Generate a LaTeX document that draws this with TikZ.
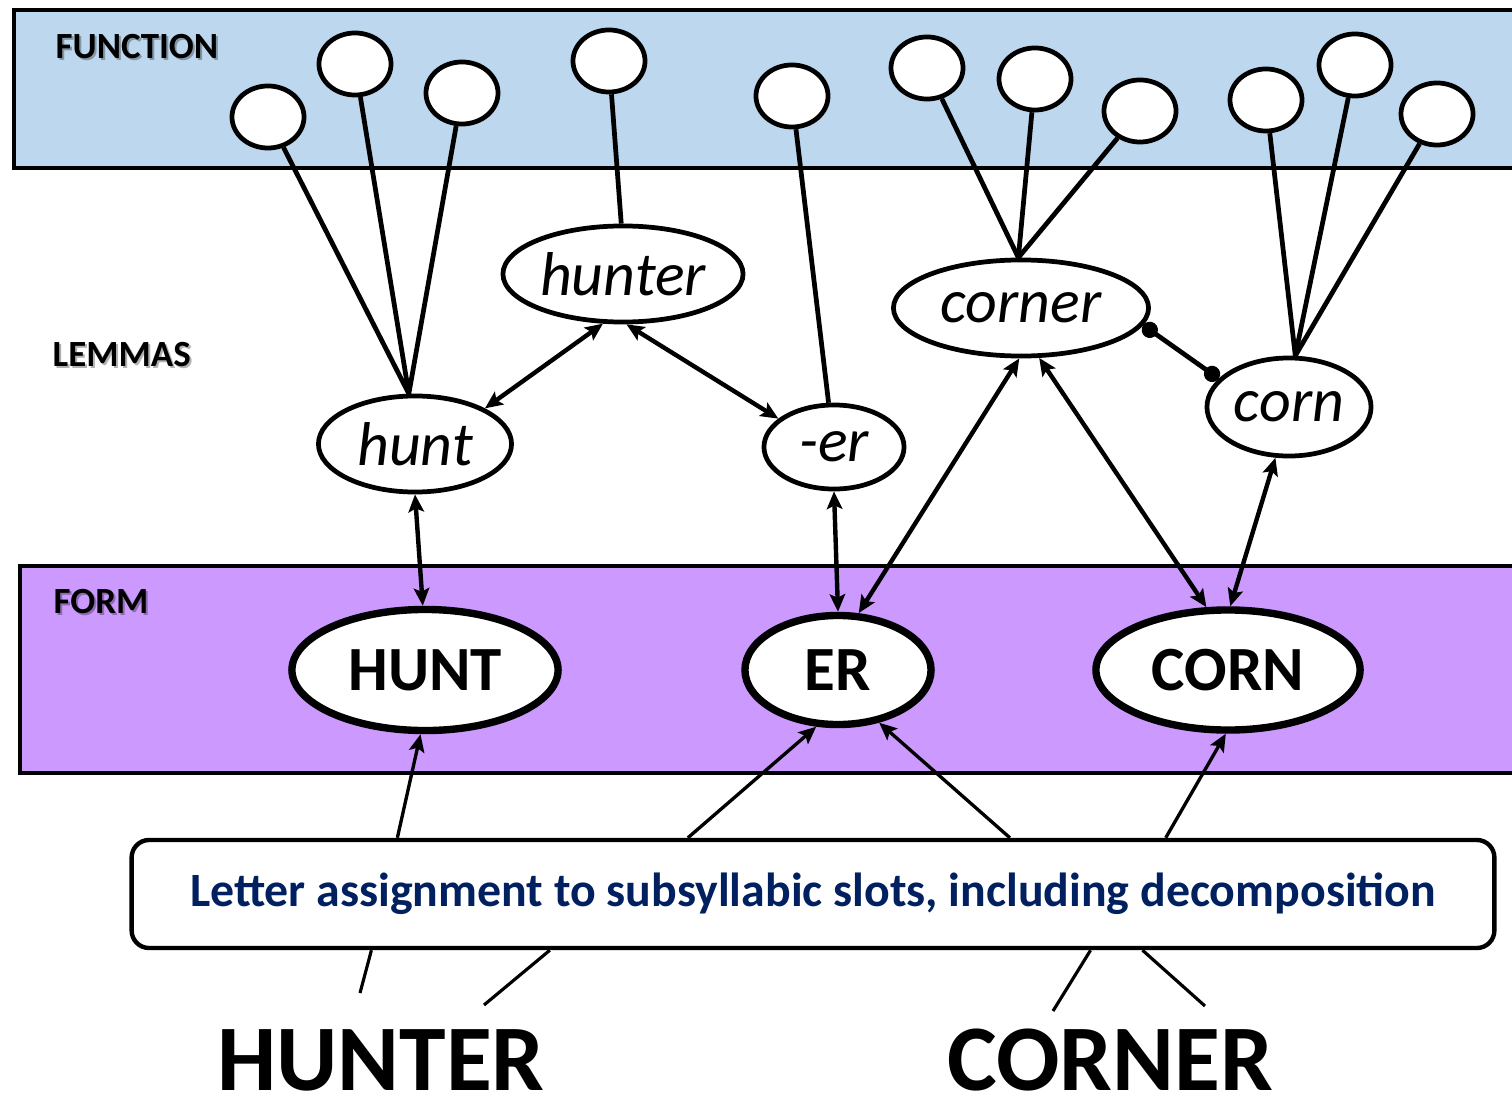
\documentclass[tikz,border=0pt]{standalone}
\usepackage{fontspec}
\setmainfont{Carlito}
\usetikzlibrary{shapes.geometric,arrows.meta,calc}
\definecolor{funcblue}{HTML}{BDD7EE}
\definecolor{formviolet}{HTML}{CC99FF}
\definecolor{navy}{HTML}{002060}

\begin{document}
\begin{tikzpicture}[x=0.01cm,y=-0.01cm,
  sense/.style={ellipse,draw,fill=white,line width=1.35pt,minimum width=0.72cm,minimum height=0.62cm,inner sep=0pt},
  lemma/.style={ellipse,draw,fill=white,line width=1.35pt,inner sep=0pt,font=\fontsize{17.6}{20}\selectfont\itshape},
  wordform/.style={ellipse,draw,fill=white,line width=2.1pt,inner sep=0pt,font=\fontsize{17.9}{20}\selectfont\bfseries},
  bandlabel/.style={anchor=base west,inner sep=0pt,font=\fontsize{10.5}{12}\selectfont\bfseries},
  labelshadow/.style={bandlabel,text=black,opacity=0.3},
  bigword/.style={anchor=base,inner sep=0pt,font=\fontsize{26.7}{30}\selectfont\bfseries},
  link/.style={line width=1.35pt},
  tip/.tip={Stealth[length=5pt,width=4.4pt,inset=1pt]},
  biarrow/.style={line width=1.25pt,tip-tip},
  feed/.style={line width=0.95pt,-tip},
  thin/.style={line width=0.9pt},
  dotlink/.style={line width=1.35pt,{Circle[length=4.6pt]}-{Circle[length=4.6pt]}}]

\useasboundingbox (0,0) rectangle (1512,1097);

% bands
\fill[funcblue] (14,10) rectangle (1512,168);
\draw[line width=1pt] (1512,10) -- (14,10) -- (14,168) -- (1512,168);
\fill[formviolet] (20,566) rectangle (1512,773);
\draw[line width=1pt] (1512,566) -- (20,566) -- (20,773) -- (1512,773);

% band labels with soft shadow
\node[labelshadow] (fnS) at (57,61) {FUNCTION};
\node[bandlabel] (fn) at (55,59) {FUNCTION};
\node[labelshadow] (lmS) at (54,368) {LEMMAS};
\node[bandlabel] (lm) at (52,366) {LEMMAS};
\node[labelshadow] (foS) at (55,615) {FORM};
\node[bandlabel] (fo) at (53,613) {FORM};

% function units
\node[sense] (f1) at (268,117) {};
\node[sense] (f2) at (355,64) {};
\node[sense] (f3) at (462,93) {};
\node[sense] (f4) at (609,61) {};
\node[sense] (f5) at (792,96) {};
\node[sense] (f6) at (927,68) {};
\node[sense] (f7) at (1035,79) {};
\node[sense] (f8) at (1140,111) {};
\node[sense] (f9) at (1266,100) {};
\node[sense] (f10) at (1355,65) {};
\node[sense] (f11) at (1437,114) {};

% lemmas
\node[lemma,minimum width=2.40cm,minimum height=0.96cm] (hunter) at (623,274) {hunter};
\node[lemma,minimum width=1.93cm,minimum height=0.96cm] (hunt) at (415,444) {hunt};
\node[lemma,minimum width=1.40cm,minimum height=0.84cm] (er) at (834,447) {-er};
\node[lemma,minimum width=2.55cm,minimum height=0.96cm] (corner) at (1021,308) {corner};
\node[lemma,minimum width=1.64cm,minimum height=0.98cm] (corn) at (1289,407) {corn};

% orthographic forms
\node[wordform,minimum width=2.66cm,minimum height=1.21cm] (HUNT) at (425,670) {HUNT};
\node[wordform,minimum width=1.86cm,minimum height=1.09cm] (ER) at (838,670) {ER};
\node[wordform,minimum width=2.64cm,minimum height=1.20cm] (CORN) at (1228,670) {CORN};

% letter assignment stage
\node[draw,fill=white,line width=1.25pt,rounded corners=5pt,minimum width=13.62cm,minimum height=1.08cm,inner sep=0pt,
      text=navy,font=\fontsize{13.6}{15}\selectfont\bfseries] (letters) at (813,894)
      {\raisebox{-1.5pt}{Letter assignment to subsyllabic slots, including decomposition}};

% input words
\node[bigword] (HUNTER) at (381,1090) {HUNTER};
\node[bigword] (CORNER) at (1110,1090) {CORNER};
\coordinate (hunterA) at (360,993);
\coordinate (hunterB) at (484,1005);
\coordinate (cornerA) at (1053,1011);
\coordinate (cornerB) at (1205,1006);

% lemma -> function links
\draw[link] (hunt.97) -- (f1);
\draw[link] (hunt.97) -- (f2);
\draw[link] (hunt.97) -- (f3);
\draw[link] (hunter.92) -- (f4);
\draw[link] (er.97) -- (f5);
\draw[link] (corner.93) -- (f6);
\draw[link] (corner.93) -- (f7);
\draw[link] (corner.93) -- (f8);
\draw[link] (corn.83) -- (f9);
\draw[link] (corn.83) -- (f10);
\draw[link] (corn.83) -- (f11);

% lemma <-> lemma and lemma <-> form
\draw[biarrow] (hunt.27) -- (hunter.248);
\draw[biarrow] (hunter.274) -- (er.153);
\draw[biarrow] (hunt.270) -- (HUNT.92);
\draw[biarrow] (er.270) -- (ER.90);
\draw[biarrow] (corner.268) -- (ER.70);
\draw[biarrow] (corner.290) -- (CORN.109);
\draw[biarrow] (corn.255) -- (CORN.88);
\draw[dotlink] (corner.352) -- (corn.158);

% letter assignment -> forms
\draw[feed] ($(letters.north west)!0.196!(letters.north east)$) -- (HUNT.266);
\draw[feed] ($(letters.north west)!0.4085!(letters.north east)$) -- (ER.249);
\draw[feed] ($(letters.north west)!0.644!(letters.north east)$) -- (ER.308);
\draw[feed] ($(letters.north west)!0.758!(letters.north east)$) -- (CORN.268);

% input words -> letter assignment
\draw[thin] (hunterA) -- ($(letters.south west)!0.177!(letters.south east)$);
\draw[thin] (hunterB) -- ($(letters.south west)!0.3075!(letters.south east)$);
\draw[thin] (cornerA) -- ($(letters.south west)!0.703!(letters.south east)$);
\draw[thin] (cornerB) -- ($(letters.south west)!0.741!(letters.south east)$);
\end{tikzpicture}
\end{document}
